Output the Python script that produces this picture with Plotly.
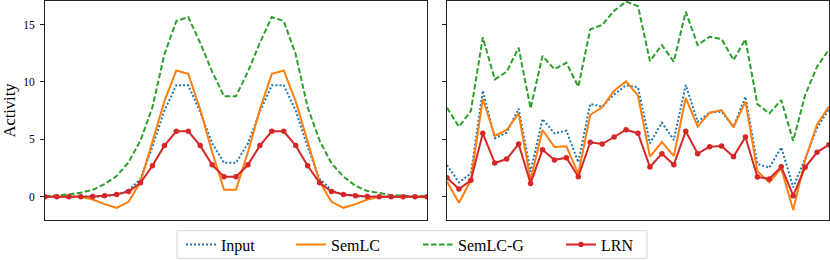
import plotly.graph_objects as go

# ---------------- data ----------------
positions = list(range(33))

left_input = [0, 0, 0, 0, 0, 0.03, 0.18, 0.55, 1.55, 4.35, 7.5, 9.7, 9.7, 7.4, 4.65, 2.95,
              2.95, 4.65, 7.4, 9.7, 9.7, 7.5, 4.35, 1.55, 0.55, 0.18, 0.03, 0, 0, 0, 0, 0, 0]
left_semlc = [0, 0, 0, 0, -0.25, -0.65, -0.97, -0.45, 1.3, 4.7, 8.3, 11.0, 10.7, 7.6, 3.9, 0.6,
              0.6, 3.9, 7.6, 10.7, 11.0, 8.3, 4.7, 1.3, -0.45, -0.97, -0.65, -0.25, 0, 0, 0, 0, 0]
left_semlcg = [0.05, 0.1, 0.2, 0.35, 0.6, 1.1, 1.8, 3.0, 4.9, 7.8, 12.4, 15.3, 15.65, 13.4, 10.9, 8.75,
               8.75, 10.9, 13.4, 15.65, 15.3, 12.4, 7.8, 4.9, 2.9, 1.75, 0.95, 0.5, 0.3, 0.15, 0.08, 0.05, 0.03]
left_lrn = [0, 0, 0, 0, 0.02, 0.08, 0.2, 0.45, 1.22, 2.7, 4.45, 5.7, 5.7, 4.45, 2.78, 1.74,
            1.74, 2.78, 4.45, 5.7, 5.7, 4.45, 2.7, 1.22, 0.45, 0.2, 0.08, 0.02, 0, 0, 0, 0, 0]

right_input = [2.76, 1.25, 2.03, 9.23, 5.09, 5.58, 7.67, 2.18, 6.77, 5.52, 5.75, 3.0, 8.08, 7.84, 8.92, 9.7,
               9.53, 4.65, 6.45, 4.94, 9.73, 6.53, 7.32, 7.4, 6.1, 8.71, 2.85, 2.53, 4.3, 0.82, 3.31, 6.01, 7.64]
right_semlc = [1.31, -0.52, 1.45, 8.54, 5.29, 5.81, 7.26, 1.45, 5.81, 4.33, 4.39, 1.98, 7.14, 7.79, 9.23, 10.05,
               8.8, 3.49, 4.76, 3.55, 8.62, 6.1, 7.32, 7.55, 6.04, 8.28, 2.21, 1.25, 2.47, -1.16, 3.2, 6.3, 7.85]
right_semlcg = [7.75, 6.1, 7.47, 13.88, 10.22, 10.89, 12.98, 7.7, 12.26, 11.1, 11.67, 9.58, 14.58, 14.96, 16.2, 17.0,
                16.6, 11.82, 13.21, 11.76, 16.12, 13.21, 13.94, 13.74, 11.9, 13.71, 8.07, 7.26, 8.42, 4.85, 8.86, 11.32, 12.84]
right_lrn = [1.65, 0.67, 1.43, 5.52, 2.94, 3.28, 4.59, 1.16, 4.1, 3.2, 3.4, 1.74, 4.74, 4.59, 5.2, 5.84,
             5.52, 2.59, 3.75, 2.79, 5.7, 3.75, 4.36, 4.42, 3.49, 5.2, 1.72, 1.54, 2.61, 0.09, 2.56, 3.87, 4.53]

series_names = ["Input", "SemLC", "SemLC-G", "LRN"]
y_ticks = [0, 5, 10, 15]

# ---------------- styling ----------------
FONT = "Liberation Serif"
colors = {"Input": "#1f77b4", "SemLC": "#ff7f0e", "SemLC-G": "#2ca02c", "LRN": "#d62728"}
dashes = {"Input": "2px,2px", "SemLC": "solid", "SemLC-G": "5.5px,2.5px", "LRN": "solid"}
legend_ids = {"Input": "legend", "SemLC": "legend2", "SemLC-G": "legend3", "LRN": "legend4"}

left = {"Input": left_input, "SemLC": left_semlc, "SemLC-G": left_semlcg, "LRN": left_lrn}
right = {"Input": right_input, "SemLC": right_semlc, "SemLC-G": right_semlcg, "LRN": right_lrn}

fig = go.Figure()
for panel, (data, xa, ya) in enumerate([(left, "x", "y"), (right, "x2", "y2")]):
    for name in series_names:
        is_lrn = name == "LRN"
        fig.add_trace(go.Scatter(
            x=positions, y=data[name], name=name,
            mode="lines+markers" if is_lrn else "lines",
            line=dict(color=colors[name], width=2, dash=dashes[name]),
            marker=dict(size=5.5, color=colors[name]) if is_lrn else None,
            xaxis=xa, yaxis=ya,
            showlegend=(panel == 0),
            legend=legend_ids[name],
        ))

W, H = 830, 260
ml, mr, mt, mb = 45, 1, 1, 40
pw = W - ml - mr
ph = H - mt - mb

def px_to_paper_x(px):
    return (px - ml) / pw

def px_to_paper_y(py):
    return (H - mb - py) / ph

axis_common = dict(showline=True, mirror=True, linecolor="#222", linewidth=1,
                   showgrid=False, zeroline=False, automargin=False)

legend_common = dict(orientation="h", xanchor="left", yanchor="middle",
                     bgcolor="rgba(0,0,0,0)", borderwidth=0,
                     font=dict(family=FONT, size=16, color="#000"),
                     itemwidth=30, itemclick=False)

# left edge positions (px) of each legend entry
legend_x_px = {"Input": 181, "SemLC": 291, "SemLC-G": 418, "LRN": 561}
ly = px_to_paper_y(244.5)

layout_legends = {}
for name in series_names:
    layout_legends[legend_ids[name]] = dict(legend_common, x=px_to_paper_x(legend_x_px[name]), y=ly)

fig.update_layout(
    width=W, height=H,
    margin=dict(l=ml, r=mr, t=mt, b=mb, autoexpand=False),
    paper_bgcolor="white", plot_bgcolor="white",
    font=dict(family=FONT, size=11, color="#000"),
    xaxis=dict(axis_common, domain=[0, 382 / pw], range=[0, 32], showticklabels=False, ticks=""),
    xaxis2=dict(axis_common, domain=[402 / pw, 1], range=[0, 32], showticklabels=False, ticks="", anchor="y2"),
    yaxis=dict(axis_common, range=[-2.03, 17.05], tickvals=y_ticks, ticks="outside", ticklen=4,
               tickwidth=1, tickcolor="#222", ticklabelstandoff=3,
               tickfont=dict(family=FONT, size=11.5),
               title=dict(text="Activity", font=dict(family=FONT, size=16.5), standoff=7)),
    yaxis2=dict(axis_common, range=[-2.03, 17.05], tickvals=y_ticks, ticks="outside", ticklen=4,
                tickwidth=1, tickcolor="#222", showticklabels=False, anchor="x2"),
    shapes=[dict(type="rect", xref="paper", yref="paper",
                 x0=px_to_paper_x(177), x1=px_to_paper_x(647),
                 y0=px_to_paper_y(230.7), y1=px_to_paper_y(258.3),
                 line=dict(color="#d4d4d4", width=1), fillcolor="rgba(0,0,0,0)")],
    **layout_legends,
)

fig.write_html("out.html", config={"displayModeBar": False},
               post_script="document.body.style.margin='0';")
